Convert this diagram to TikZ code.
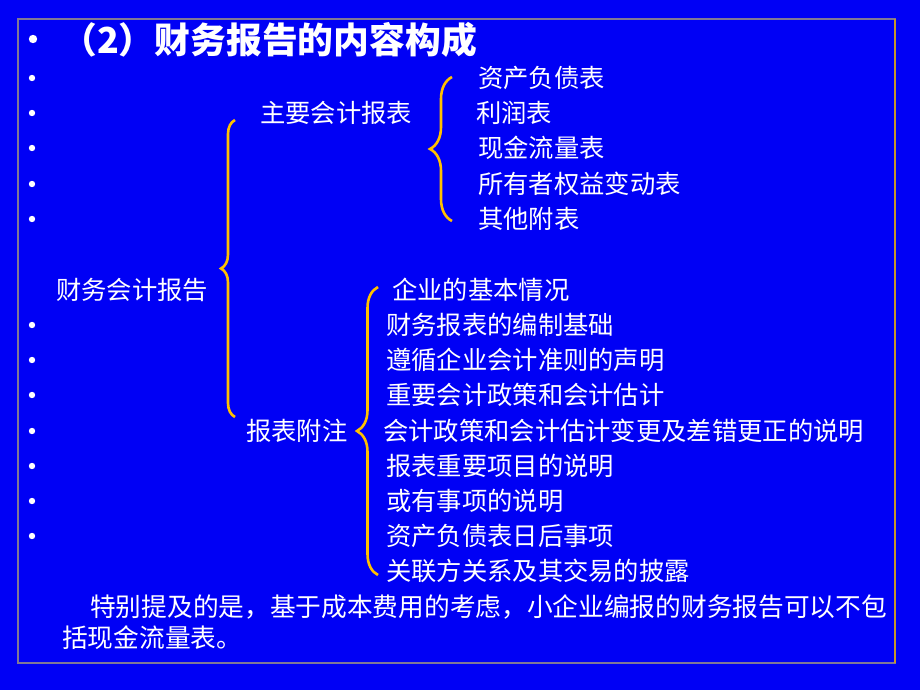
\documentclass[tikz,border=0pt]{standalone}
\usepackage{fontspec}
\usepackage{tikz}
\usetikzlibrary{decorations.pathreplacing}
\newfontfamily\cjk{Noto Sans CJK SC}
\definecolor{slideblue}{RGB}{0,0,245}
\definecolor{braceyellow}{RGB}{255,192,0}
\definecolor{framegray}{RGB}{128,120,150}
\definecolor{framegold}{RGB}{200,150,40}

\begin{document}
\begin{tikzpicture}[x=1pt,y=-1pt,
	item/.style={anchor=west,inner sep=0pt,text=white,font=\cjk\fontsize{25.3}{30}\selectfont},
	bracket/.style={draw=braceyellow,line width=2.6pt,decorate,decoration={brace,amplitude=#1}}]
	\fill[slideblue] (0,0) rectangle (920,690);
	\useasboundingbox (0,0) rectangle (920,690);
	\draw[framegray,line width=1.6pt] (18,19) rectangle (895,663);
	\draw[framegold,line width=1.2pt] (895,19) -- (895,663);

	% bullets
	\fill[white] (33,39) circle (4.2);
	\foreach \y in {78,113,148,184,219,325,360,395,431,466,501,536}
		\fill[white] (32,\y) circle (3.2);

	\node[item,font=\cjk\bfseries\fontsize{35.8}{40}\selectfont] (title) at (61,40) {（2）财务报告的内容构成};

	\node[item] (report) at (56,290)  {财务会计报告};
	\node[item] (main)   at (260,113) {主要会计报表};
	\node[item] (notes)  at (246,431) {报表附注};

	\node[item] (m1) at (478,78)  {资产负债表};
	\node[item] (m2) at (476,113) {利润表};
	\node[item] (m3) at (478,148) {现金流量表};
	\node[item] (m4) at (478,184) {所有者权益变动表};
	\node[item] (m5) at (478,219) {其他附表};

	\node[item] (n1) at (392,290) {企业的基本情况};
	\node[item] (n2) at (386,325) {财务报表的编制基础};
	\node[item] (n3) at (386,360) {遵循企业会计准则的声明};
	\node[item] (n4) at (386,395) {重要会计政策和会计估计};
	\node[item] (n5) at (383,431) {会计政策和会计估计变更及差错更正的说明};
	\node[item] (n6) at (386,466) {报表重要项目的说明};
	\node[item] (n7) at (386,501) {或有事项的说明};
	\node[item] (n8) at (386,536) {资产负债表日后事项};
	\node[item] (n9) at (386,571) {关联方关系及其交易的披露};

	\node[item,font=\cjk\fontsize{25.7}{31}\selectfont] (remark1) at (90,607) {特别提及的是，基于成本费用的考虑，小企业编报的财务报告可以不包};
	\node[item,font=\cjk\fontsize{25.7}{31}\selectfont] (remark2) at (62,638) {括现金流量表。};

	% brace ends
	\coordinate (reportTop) at (235,120);
	\coordinate (reportBot) at (235,417);
	\coordinate (mainTop)   at (452,77);
	\coordinate (mainBot)   at (452,221);
	\coordinate (notesTop)  at (378,287);
	\coordinate (notesBot)  at (378,575);

	\draw[bracket=14] (reportBot) -- (reportTop);
	\draw[bracket=22] (mainBot) -- (mainTop);
	\draw[bracket=21] (notesBot) -- (notesTop);
\end{tikzpicture}
\end{document}
